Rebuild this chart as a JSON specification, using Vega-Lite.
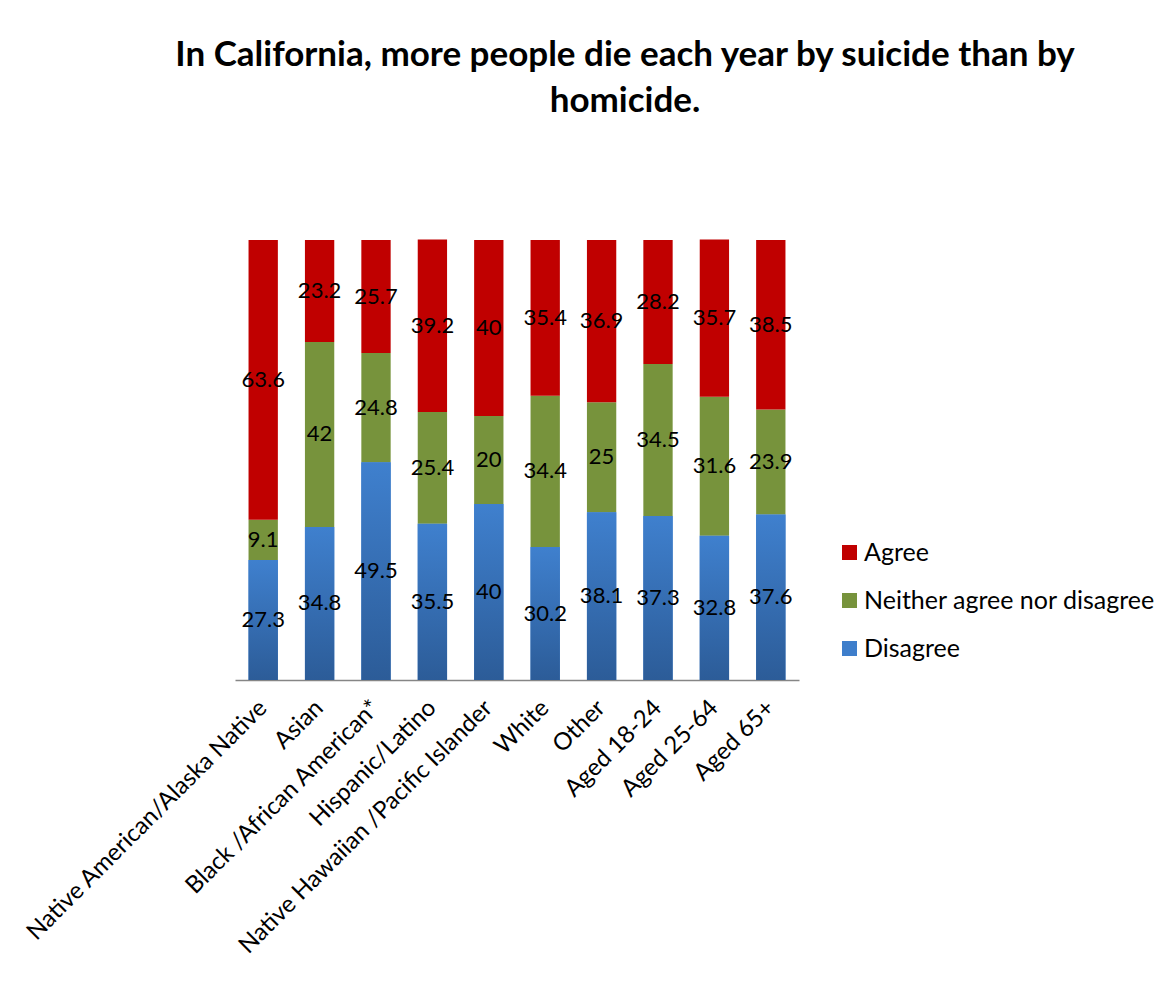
{
  "$schema": "https://vega.github.io/schema/vega-lite/v6.json",
  "width": 564,
  "height": 440,
  "autosize": {"type": "none"},
  "padding": {"left": 235, "top": 240, "right": 372, "bottom": 305},
  "background": "white",
  "title": {
    "text": ["In California, more people die each year by suicide than by", "homicide."],
    "font": "Lato",
    "fontSize": 35,
    "fontWeight": "bold",
    "color": "#000000",
    "anchor": "middle",
    "frame": "group",
    "dx": 108,
    "lineHeight": 46,
    "offset": 121
  },
  "data": {
    "values": [
      {"category": "Native American/Alaska Native", "response": "Disagree", "ord": 1, "value": 27.3},
      {"category": "Native American/Alaska Native", "response": "Neither agree nor disagree", "ord": 2, "value": 9.1},
      {"category": "Native American/Alaska Native", "response": "Agree", "ord": 3, "value": 63.6},
      {"category": "Asian", "response": "Disagree", "ord": 1, "value": 34.8},
      {"category": "Asian", "response": "Neither agree nor disagree", "ord": 2, "value": 42},
      {"category": "Asian", "response": "Agree", "ord": 3, "value": 23.2},
      {"category": "Black /African American*", "response": "Disagree", "ord": 1, "value": 49.5},
      {"category": "Black /African American*", "response": "Neither agree nor disagree", "ord": 2, "value": 24.8},
      {"category": "Black /African American*", "response": "Agree", "ord": 3, "value": 25.7},
      {"category": "Hispanic/Latino", "response": "Disagree", "ord": 1, "value": 35.5},
      {"category": "Hispanic/Latino", "response": "Neither agree nor disagree", "ord": 2, "value": 25.4},
      {"category": "Hispanic/Latino", "response": "Agree", "ord": 3, "value": 39.2},
      {"category": "Native Hawaiian /Pacific Islander", "response": "Disagree", "ord": 1, "value": 40},
      {"category": "Native Hawaiian /Pacific Islander", "response": "Neither agree nor disagree", "ord": 2, "value": 20},
      {"category": "Native Hawaiian /Pacific Islander", "response": "Agree", "ord": 3, "value": 40},
      {"category": "White", "response": "Disagree", "ord": 1, "value": 30.2},
      {"category": "White", "response": "Neither agree nor disagree", "ord": 2, "value": 34.4},
      {"category": "White", "response": "Agree", "ord": 3, "value": 35.4},
      {"category": "Other", "response": "Disagree", "ord": 1, "value": 38.1},
      {"category": "Other", "response": "Neither agree nor disagree", "ord": 2, "value": 25},
      {"category": "Other", "response": "Agree", "ord": 3, "value": 36.9},
      {"category": "Aged 18-24", "response": "Disagree", "ord": 1, "value": 37.3},
      {"category": "Aged 18-24", "response": "Neither agree nor disagree", "ord": 2, "value": 34.5},
      {"category": "Aged 18-24", "response": "Agree", "ord": 3, "value": 28.2},
      {"category": "Aged 25-64", "response": "Disagree", "ord": 1, "value": 32.8},
      {"category": "Aged 25-64", "response": "Neither agree nor disagree", "ord": 2, "value": 31.6},
      {"category": "Aged 25-64", "response": "Agree", "ord": 3, "value": 35.7},
      {"category": "Aged 65+", "response": "Disagree", "ord": 1, "value": 37.6},
      {"category": "Aged 65+", "response": "Neither agree nor disagree", "ord": 2, "value": 23.9},
      {"category": "Aged 65+", "response": "Agree", "ord": 3, "value": 38.5}
    ]
  },
  "encoding": {
    "x": {
      "field": "category",
      "type": "nominal",
      "sort": ["Native American/Alaska Native", "Asian", "Black /African American*", "Hispanic/Latino", "Native Hawaiian /Pacific Islander", "White", "Other", "Aged 18-24", "Aged 25-64", "Aged 65+"],
      "scale": {"paddingInner": 0.48, "paddingOuter": 0.24},
      "axis": {
        "title": null,
        "labelAngle": -45,
        "labelAlign": "right",
        "labelBaseline": "middle",
        "labelFont": "Lato",
        "labelFontSize": 24,
        "labelColor": "#000000",
        "labelLimit": 0,
        "labelPadding": 24,
        "ticks": false,
        "domainColor": "#868686",
        "domainWidth": 1.5
      }
    }
  },
  "layer": [
    {
      "mark": {"type": "bar"},
      "encoding": {
        "y": {"field": "value", "type": "quantitative", "stack": "zero", "scale": {"domain": [0, 100]}, "axis": null},
        "order": {"field": "ord", "type": "quantitative"},
        "color": {
          "field": "response",
          "type": "nominal",
          "scale": {"domain": ["Agree", "Neither agree nor disagree", "Disagree"], "range": ["#C00000", "#77933C", "#3E7ECB"]},
          "legend": {
            "title": null,
            "orient": "none",
            "legendX": 602,
            "legendY": 300,
            "symbolType": "square",
            "symbolSize": 225,
            "symbolStrokeWidth": 0,
            "labelFont": "Lato",
            "labelFontSize": 25,
            "labelColor": "#000000",
            "labelOffset": 2,
            "rowPadding": 22,
            "labelLimit": 0
          }
        }
      }
    },
    {
      "transform": [{"filter": {"field": "response", "equal": "Disagree"}}],
      "mark": {
        "type": "bar",
        "color": {
          "gradient": "linear",
          "x1": 0, "y1": 0, "x2": 0, "y2": 1,
          "stops": [{"offset": 0, "color": "#3F80CE"}, {"offset": 1, "color": "#2C5C98"}]
        }
      },
      "encoding": {
        "y": {"field": "value", "type": "quantitative", "stack": "zero"}
      }
    },
    {
      "transform": [
        {"stack": "value", "groupby": ["category"], "sort": [{"field": "ord", "order": "ascending"}], "as": ["v0", "v1"]},
        {"fold": ["v0", "v1"], "as": ["edge", "pos"]},
        {"aggregate": [{"op": "mean", "field": "pos", "as": "mid"}], "groupby": ["category", "response", "value"]}
      ],
      "mark": {"type": "text", "font": "Lato", "fontSize": 22, "color": "#000000", "baseline": "middle", "align": "center"},
      "encoding": {
        "y": {"field": "mid", "type": "quantitative"},
        "text": {"field": "value", "type": "quantitative"}
      }
    }
  ],
  "config": {
    "view": {"stroke": null}
  }
}
